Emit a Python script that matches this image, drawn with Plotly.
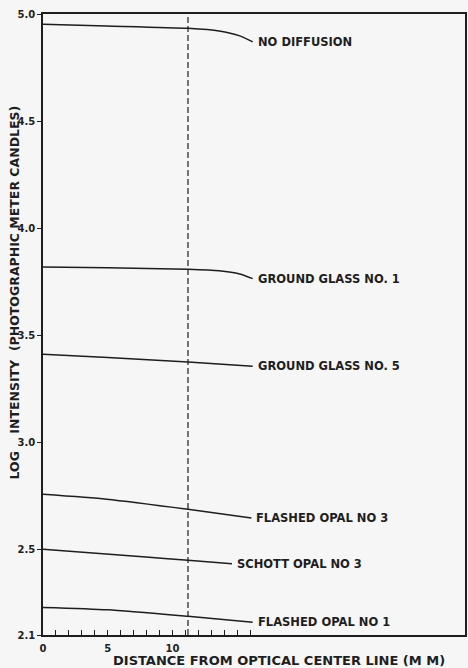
import plotly.graph_objects as go

# ---- data ----
series_names = ["NO DIFFUSION", "GROUND GLASS NO. 1", "GROUND GLASS NO. 5",
                "FLASHED OPAL NO 3", "SCHOTT OPAL NO 3", "FLASHED OPAL NO 1"]

x_no_diffusion = [0, 4.9, 11.2, 13.6, 15.2, 16.2]
y_no_diffusion = [4.952, 4.944, 4.933, 4.921, 4.898, 4.870]

x_ground_glass_1 = [0, 5, 11.2, 13.6, 15.2, 16.2]
y_ground_glass_1 = [3.819, 3.815, 3.808, 3.801, 3.786, 3.764]

x_ground_glass_5 = [0, 5, 11.2, 16.2]
y_ground_glass_5 = [3.411, 3.396, 3.375, 3.355]

x_flashed_opal_3 = [0, 4.9, 11.2, 16.1]
y_flashed_opal_3 = [2.757, 2.734, 2.687, 2.646]

x_schott_opal_3 = [0, 8.2, 11.2, 14.6]
y_schott_opal_3 = [2.500, 2.463, 2.449, 2.433]

x_flashed_opal_1 = [0, 5, 11.2, 16.2]
y_flashed_opal_1 = [2.229, 2.218, 2.187, 2.159]

center_line_x = 11.2

x_tick_vals = list(range(0, 17))
x_tick_text = ["0", "", "", "", "", "5", "", "", "", "", "10", "", "", "", "", "", ""]
y_tick_vals = [2.1, 2.5, 3.0, 3.5, 4.0, 4.5, 5.0]
y_tick_text = ["2.1", "2.5", "3.0", "3.5", "4.0", "4.5", "5.0"]

x_title = "DISTANCE FROM OPTICAL CENTER LINE (M M)"
y_title = "LOG&nbsp;&nbsp;&nbsp;&nbsp;INTENSITY&nbsp;&nbsp;(PHOTOGRAPHIC METER CANDLES)"

# ---- figure ----
ink = "#1e1e1e"
font_family = "DejaVu Sans"
bg = "#f6f6f6"

xs = [x_no_diffusion, x_ground_glass_1, x_ground_glass_5,
      x_flashed_opal_3, x_schott_opal_3, x_flashed_opal_1]
ys = [y_no_diffusion, y_ground_glass_1, y_ground_glass_5,
      y_flashed_opal_3, y_schott_opal_3, y_flashed_opal_1]

fig = go.Figure()
annotations = []
for name, x, y in zip(series_names, xs, ys):
    fig.add_trace(go.Scatter(
        x=x, y=y, mode="lines", name=name,
        line=dict(color=ink, width=1.5, shape="spline", smoothing=0.6),
        showlegend=False, hoverinfo="skip"))
    annotations.append(dict(
        x=x[-1], y=y[-1], xref="x", yref="y", text=name,
        showarrow=False, xanchor="left", yanchor="middle", xshift=3,
        font=dict(family=font_family, size=11.5, color=ink, weight="bold")))

annotations.append(dict(
    x=-0.068, y=0.552, xref="paper", yref="paper", text=y_title, textangle=-90,
    showarrow=False, xanchor="center", yanchor="middle",
    font=dict(family=font_family, size=12.5, color=ink, weight="bold")))
annotations.append(dict(
    x=0.56, y=-0.0415, xref="paper", yref="paper", text=x_title,
    showarrow=False, xanchor="center", yanchor="middle",
    font=dict(family=font_family, size=13, color=ink, weight="bold")))

fig.add_shape(type="line", x0=center_line_x, x1=center_line_x, y0=0, y1=1,
              xref="x", yref="paper",
              line=dict(color=ink, width=1.2, dash="6px,3px"))

fig.update_layout(
    width=468, height=668,
    margin=dict(l=43, r=1, t=14, b=33),
    paper_bgcolor=bg, plot_bgcolor=bg,
    annotations=annotations,
    font=dict(family=font_family, color=ink),
)
fig.update_xaxes(
    range=[0, 32.6], tickvals=x_tick_vals, ticktext=x_tick_text,
    ticks="inside", ticklen=5, tickwidth=1.2, tickcolor=ink,
    showline=True, linecolor=ink, linewidth=1.5, mirror=True,
    showgrid=False, zeroline=False, ticklabelstandoff=3,
    tickfont=dict(family=font_family, size=10, color=ink, weight="bold"),
)
fig.update_yaxes(
    range=[2.1, 5.0], tickvals=y_tick_vals, ticktext=y_tick_text,
    ticks="outside", ticklen=4, tickwidth=1.2, tickcolor=ink,
    showline=True, linecolor=ink, linewidth=1.5, mirror=True,
    showgrid=False, zeroline=False,
    tickfont=dict(family=font_family, size=10, color=ink, weight="bold"),
)

fig.write_html("out.html")
